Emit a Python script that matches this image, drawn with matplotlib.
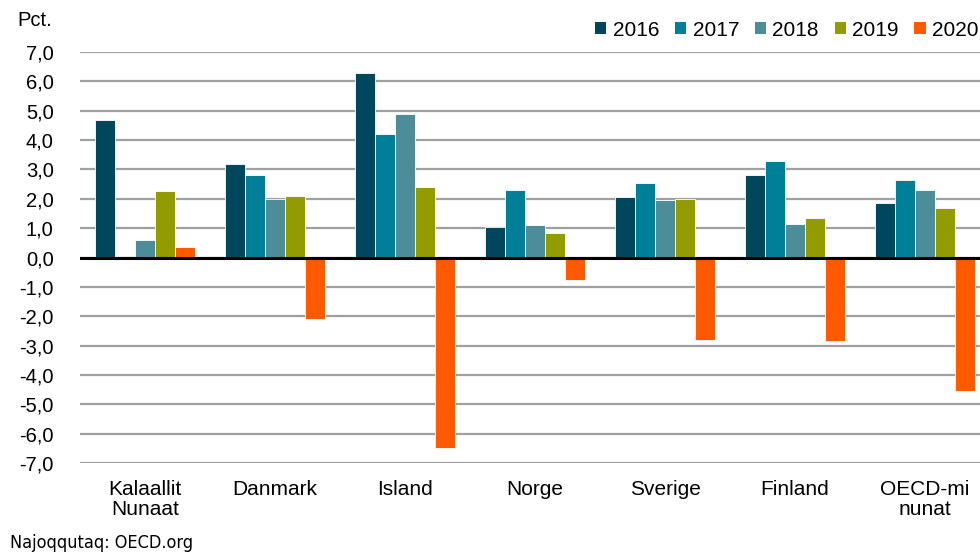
import numpy as np
import matplotlib
matplotlib.use('Agg')
import matplotlib.pyplot as plt
from matplotlib.patches import Patch

plt.rcParams['font.family'] = ['Liberation Sans', 'DejaVu Sans']

categories = ['Kalaallit\nNunaat', 'Danmark', 'Island', 'Norge', 'Sverige', 'Finland', 'OECD-mi\nnunat']
years = ['2016', '2017', '2018', '2019', '2020']
v2016 = [4.7, 3.2, 6.3, 1.05, 2.05, 2.8, 1.85]
v2017 = [0.05, 2.8, 4.2, 2.3, 2.55, 3.3, 2.65]
v2018 = [0.6, 2.0, 4.9, 1.1, 1.95, 1.15, 2.3]
v2019 = [2.25, 2.1, 2.4, 0.85, 2.0, 1.35, 1.7]
v2020 = [0.35, -2.1, -6.5, -0.75, -2.8, -2.85, -4.55]
yticks = np.arange(-7, 8, 1)

series = [v2016, v2017, v2018, v2019, v2020]
colors = ['#00475e', '#007f99', '#4d8c99', '#929b00', '#ff5a00']

fig = plt.figure(figsize=(9.8, 5.53), dpi=100)
# axes runs past the right edge, the original is cropped there
ax = fig.add_axes([80/980, 90/553, 910/980, 411/553])

x = np.arange(len(categories))
w = 100/130/5
for i, (vals, c) in enumerate(zip(series, colors)):
    ax.bar(x + (i - 2) * w, vals, width=w, color=c, edgecolor='white',
           linewidth=0.6, zorder=3)

ax.set_xlim(-0.5, len(categories) - 0.5)
ax.set_ylim(-7, 7)
ax.set_yticks(yticks)
ax.set_yticklabels([f'{t:.1f}'.replace('.', ',') for t in yticks], fontsize=14.5)
ax.set_xticks(x)
ax.set_xticklabels(categories, fontsize=15, linespacing=1.1)
ax.tick_params(length=0)
ax.tick_params(axis='y', pad=19)
ax.tick_params(axis='x', pad=12)
ax.grid(axis='y', color='#a0a0a0', linewidth=1.6, zorder=0)
ax.axhline(0, color='black', linewidth=2.2, zorder=4)
for s in ax.spines.values():
    s.set_visible(False)

fig.text(17/980, 1 - 20/553, 'Pct.', fontsize=14.5, va='center', ha='left')

handles = [Patch(facecolor=c, edgecolor='none') for c in colors]
fig.legend(handles, years, loc='center left', bbox_to_anchor=(595/980, 1 - 30/553),
           ncol=5, frameon=False, fontsize=15, handlelength=0.55, handleheight=0.55,
           handletextpad=0.3, columnspacing=0.75, borderpad=0, borderaxespad=0)

fig.text(10/980, 1 - 543/553, 'Najoqqutaq: OECD.org', fontsize=13,
         family='DejaVu Sans', stretch='condensed', va='center', ha='left')

fig.savefig('out.png', dpi=100)
